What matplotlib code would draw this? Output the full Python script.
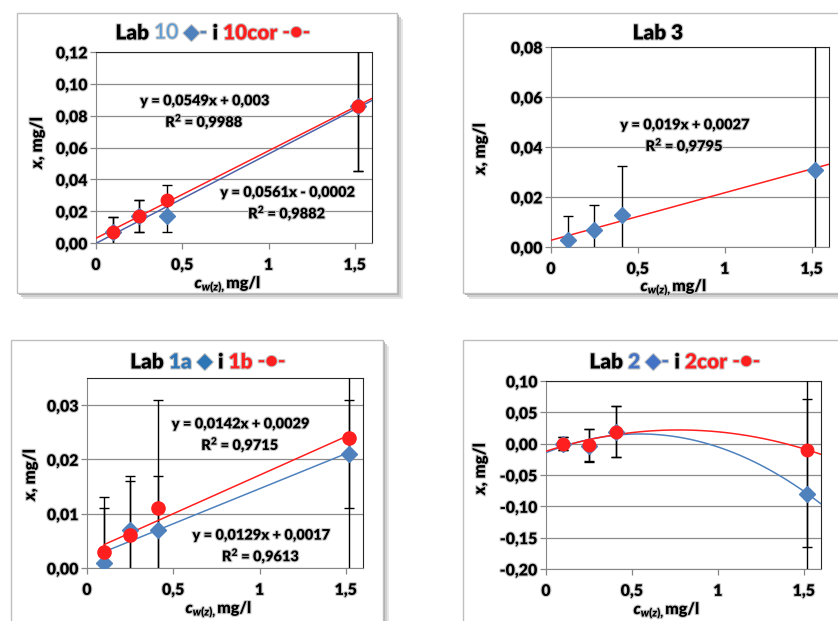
import numpy as np
import matplotlib.pyplot as plt
import matplotlib.patheffects as pe
from matplotlib.patches import Rectangle
from matplotlib.ticker import FuncFormatter, MultipleLocator

plt.rcParams['font.family'] = ['Lato', 'DejaVu Sans']
plt.rcParams['font.weight'] = 'heavy'
plt.rcParams['mathtext.fontset'] = 'custom'
plt.rcParams['mathtext.it'] = 'Lato:italic:heavy'
plt.rcParams['mathtext.rm'] = 'Lato:heavy'
plt.rcParams['mathtext.bf'] = 'Lato:heavy'

BLUE = '#4F81BD'
RED = '#FF1F1F'
GLOW = [pe.withStroke(linewidth=1.6, foreground='#C8C8C8')]

# x values: c_w(z), mg/l
conc = [0.10, 0.25, 0.41, 1.52]

# Lab 10 and 10cor
lab10 = [0.007, 0.017, 0.017, 0.086]
lab10_err = [0.0095, 0.0098, 0.0098, 0.041]
lab10cor = [0.007, 0.017, 0.027, 0.086]
lab10cor_err = [0.0095, 0.0098, 0.0092, 0.041]
lab10_fit = [0.0561, -0.0002]
lab10cor_fit = [0.0549, 0.003]

# Lab 3
lab3 = [0.003, 0.007, 0.013, 0.031]
lab3_err = [0.0095, 0.010, 0.0195, 0.06]
lab3_fit = [0.019, 0.0027]

# Lab 1a and 1b
lab1a = [0.001, 0.007, 0.007, 0.021]
lab1a_err = [0.010, 0.010, 0.010, 0.010]
lab1b = [0.003, 0.006, 0.011, 0.024]
lab1b_err = [0.010, 0.010, 0.020, 0.030]
lab1a_fit = [0.0129, 0.0017]
lab1b_fit = [0.0142, 0.0029]

# Lab 2 and 2cor (2nd order trend)
lab2 = [0.000, -0.003, 0.019, -0.080]
lab2_err = [0.010, 0.026, 0.041, 0.152]
lab2cor = [0.000, -0.002, 0.019, -0.010]
lab2cor_err = [0.010, 0.026, 0.041, 0.155]

W, H = 838, 621
fig = plt.figure(figsize=(W / 100, H / 100), dpi=100)


def fx(px):
    return px / W


def fy(py):
    return 1 - py / H


def box(x0, y0, x1, y1):
    # chart area with a soft shadow
    for off, col in [(6, '#E6E6E6'), (4, '#CFCFCF'), (2, '#B0B0B0')]:
        fig.add_artist(Rectangle((fx(x0 + off), fy(y1 + off)), fx(x1 - x0), (y1 - y0) / H,
                                 transform=fig.transFigure, facecolor=col, edgecolor='none', zorder=-2))
    fig.add_artist(Rectangle((fx(x0), fy(y1)), fx(x1 - x0), (y1 - y0) / H,
                             transform=fig.transFigure, facecolor='white', edgecolor='#BFBFBF',
                             lw=1, zorder=-1))


def make_axes(l, t, r, b, ylim, ystep):
    ax = fig.add_axes([fx(l), fy(b), fx(r - l), (b - t) / H])
    ax.set_zorder(1)
    ax.set_xlim(0, 1.6)
    ax.set_ylim(*ylim)
    ax.set_xticks([0, 0.5, 1, 1.5])
    ax.yaxis.set_major_locator(MultipleLocator(ystep))
    ax.xaxis.set_major_formatter(FuncFormatter(lambda v, p: ('%g' % v).replace('.', ',')))
    ax.yaxis.set_major_formatter(FuncFormatter(lambda v, p: ('%.2f' % v).replace('.', ',').replace('-0,00', '0,00')))
    ax.grid(axis='y', color='#8C8C8C', lw=0.9)
    ax.set_axisbelow(True)
    for s in ['left', 'bottom']:
        ax.spines[s].set_color('#868686')
    for s in ['top', 'right']:
        ax.spines[s].set_color('#262626')
    ax.tick_params(direction='out', length=4, color='#868686', labelsize=11.5, width=0.9)
    ax.tick_params(axis='x', pad=6)
    ax.tick_params(axis='y', pad=2)
    for lab in ax.get_xticklabels() + ax.get_yticklabels():
        lab.set_path_effects(GLOW)
    return ax


def labels(xl, yl):
    fig.text(fx(xl[0]), fy(xl[1]), r'$c_{w(z),}$mg/l', ha='center', va='center', fontsize=11.5,
             path_effects=GLOW)
    fig.text(fx(yl[0]), fy(yl[1]), r'$x$, mg/l', ha='center', va='center', fontsize=12, rotation=90,
             path_effects=GLOW)


def equation(ax, x, y, s):
    ax.text(x, y, s, ha='center', va='center', fontsize=10.5, linespacing=1.3, path_effects=GLOW)


def title(parts, cx, cy, size=15):
    texts = [fig.text(fx(cx), fy(cy), parts[0][0], color=parts[0][1], fontweight=parts[0][2],
                      fontsize=size, ha='left', va='center', path_effects=GLOW)]
    for s, c, w in parts[1:]:
        t = fig.add_artist(plt.Annotation(s, xy=(1, 0), xycoords=texts[-1], va='bottom', ha='left',
                                          color=c, fontweight=w, fontsize=size, path_effects=GLOW))
        texts.append(t)
    fig.canvas.draw()
    r = fig.canvas.get_renderer()
    x0 = texts[0].get_window_extent(r).x0
    x1 = texts[-1].get_window_extent(r).x1
    texts[0].set_x(fx(cx - (x1 - x0) / 2))


def series(ax, y, err, color, marker, ms):
    ax.errorbar(conc, y, yerr=err, fmt='none', ecolor='black', elinewidth=1, capsize=3.5, capthick=1, zorder=3)
    ax.plot(conc, y, linestyle='none', marker=marker, color=color, ms=ms, mec=color, zorder=5)


def linfit(ax, coef, x0, x1, color):
    xs = np.array([x0, x1])
    ax.plot(xs, np.polyval(coef, xs), color=color, lw=1.1, zorder=4)


# ---------- Lab 10 / 10cor ----------
box(17, 13, 397, 293)
ax1 = make_axes(96, 52, 372, 243, (0, 0.12), 0.02)
linfit(ax1, lab10_fit, 0, 1.6, '#4F62A8')
linfit(ax1, lab10cor_fit, 0, 1.6, RED)
series(ax1, lab10, lab10_err, BLUE, 'D', 8.5)
series(ax1, lab10cor, lab10cor_err, RED, 'o', 9)
equation(ax1, 0.63, 0.082, 'y = 0,0549x + 0,003\nR$^2$ = 0,9988')
equation(ax1, 1.11, 0.0245, 'y = 0,0561x - 0,0002\nR$^2$ = 0,9882')
labels((228, 284), (37, 142))

# ---------- Lab 3 ----------
box(463, 13, 860, 293)
ax2 = make_axes(551, 47, 829, 247, (0, 0.08), 0.02)
linfit(ax2, lab3_fit, 0, 1.6, RED)
series(ax2, lab3, lab3_err, BLUE, 'D', 8.5)
equation(ax2, 0.77, 0.0442, 'y = 0,019x + 0,0027\nR$^2$ = 0,9795')
labels((674, 287), (480, 148))

# ---------- Lab 1a / 1b ----------
box(11, 340, 383, 640)
ax3 = make_axes(87, 378, 363, 568, (0, 0.035), 0.01)
linfit(ax3, lab1a_fit, conc[0], conc[-1], BLUE)
linfit(ax3, lab1b_fit, conc[0], conc[-1], RED)
series(ax3, lab1a, lab1a_err, BLUE, 'D', 8.5)
series(ax3, lab1b, lab1b_err, RED, 'o', 9.5)
equation(ax3, 0.89, 0.0244, 'y = 0,0142x + 0,0029\nR$^2$ = 0,9715')
equation(ax3, 1.01, 0.0039, 'y = 0,0129x + 0,0017\nR$^2$ = 0,9613')
labels((219, 609), (30, 474))

# ---------- Lab 2 / 2cor ----------
box(463, 340, 860, 640)
ax4 = make_axes(546, 381, 821, 569, (-0.2, 0.1), 0.05)
xs = np.linspace(0, 1.6, 100)
ax4.plot(xs, np.polyval(np.polyfit(conc, lab2, 2), xs), color=BLUE, lw=1.1, zorder=4)
ax4.plot(xs, np.polyval(np.polyfit(conc, lab2cor, 2), xs), color=RED, lw=1.1, zorder=4)
series(ax4, lab2, lab2_err, BLUE, 'D', 8.5)
series(ax4, lab2cor, lab2cor_err, RED, 'o', 9)
labels((667, 610), (480, 468))

# ---------- titles ----------
title([('Lab ', 'black', 'heavy'), ('10', '#5B9BD5', 'normal'), (' \u25c6- ', BLUE, 'bold'),
       ('i ', 'black', 'heavy'), ('10cor', RED, 'heavy'), (' -\u25cf-', RED, 'bold')], 213, 33)
title([('Lab 3', 'black', 'heavy')], 658, 33)
title([('Lab ', 'black', 'heavy'), ('1a', '#2E75B6', 'heavy'), (' \u25c6 ', '#2E75B6', 'bold'),
       ('i ', 'black', 'heavy'), ('1b', RED, 'heavy'), (' -\u25cf-', RED, 'bold')], 208, 362)
title([('Lab ', 'black', 'heavy'), ('2', '#4472C4', 'heavy'), (' \u25c6- ', '#4472C4', 'bold'),
       ('i ', 'black', 'heavy'), ('2cor', RED, 'heavy'), (' -\u25cf-', RED, 'bold')], 675, 362)

fig.savefig('out.png', dpi=100)
